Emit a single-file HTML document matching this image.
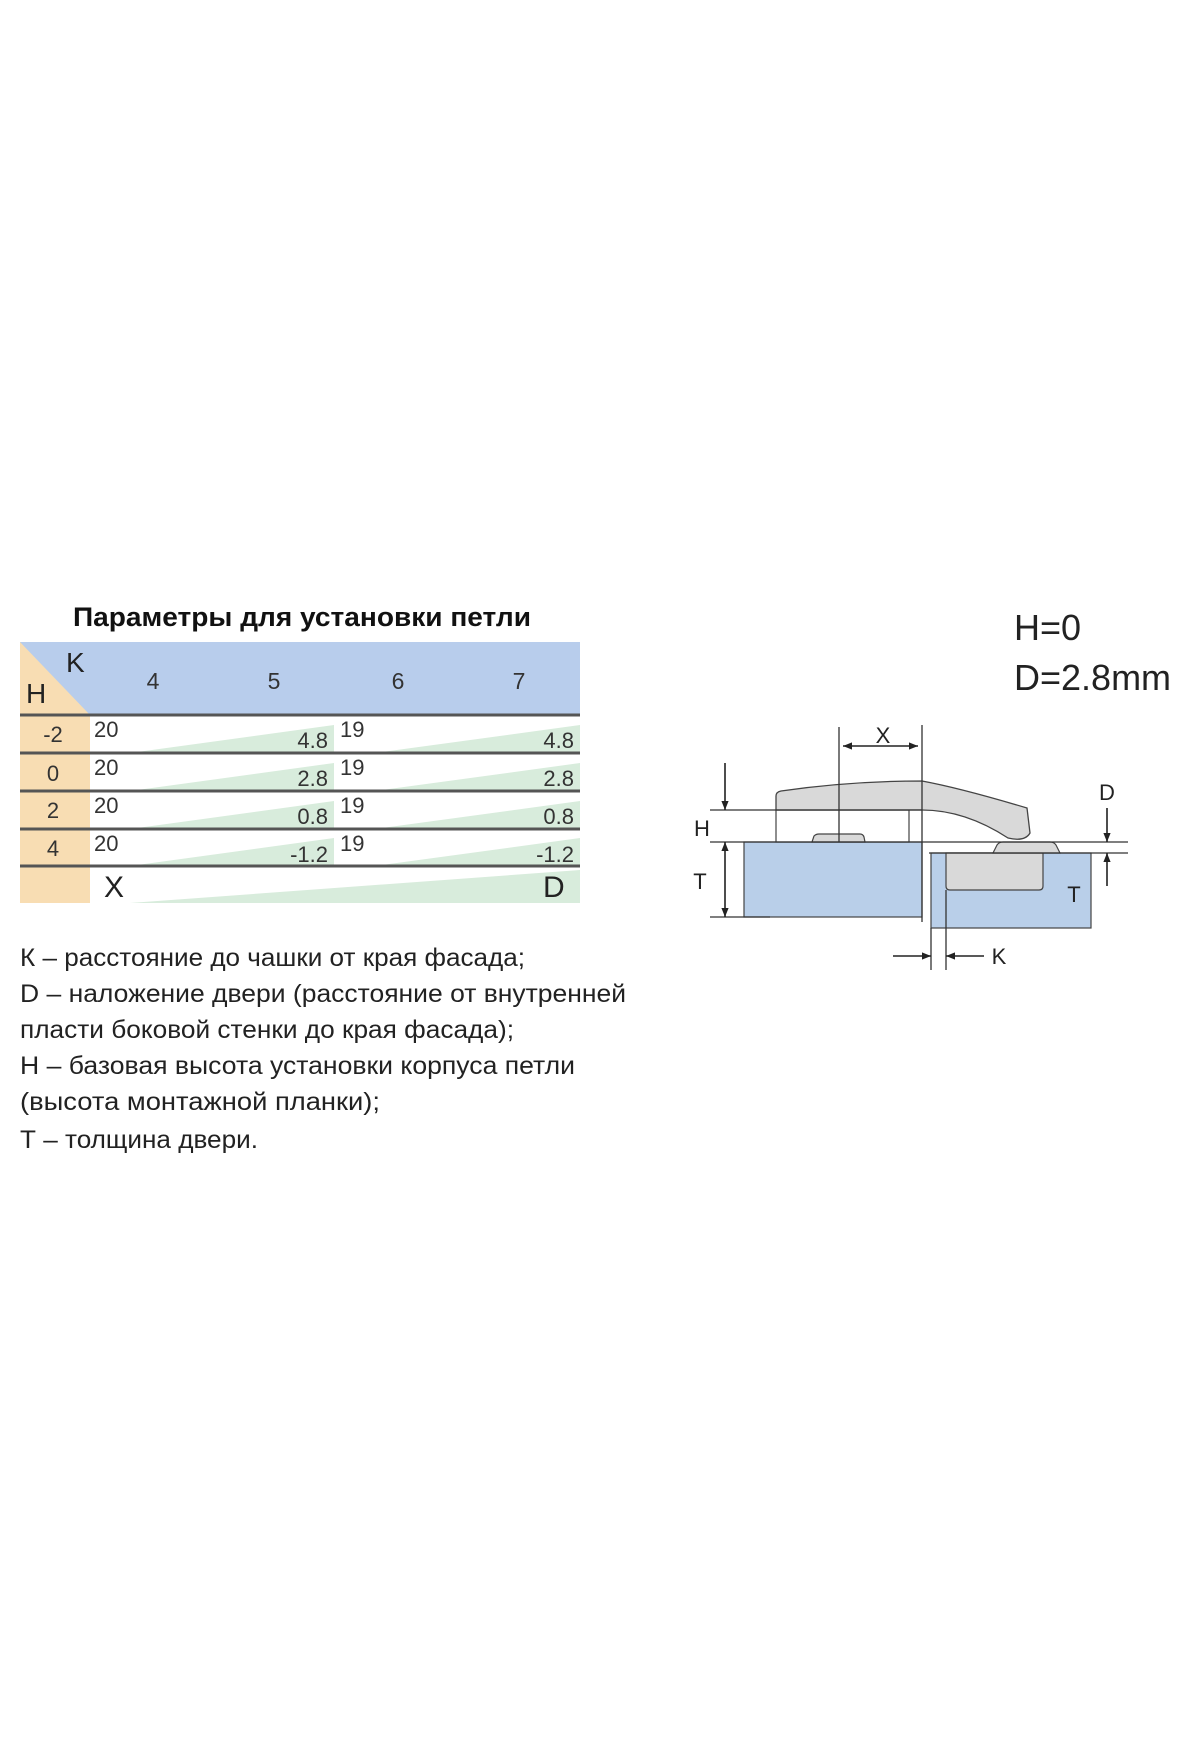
<!DOCTYPE html>
<html><head><meta charset="utf-8"><style>
html,body{margin:0;padding:0;background:#fff;width:1200px;height:1760px;overflow:hidden}
svg{display:block}
</style></head><body>
<svg width="1200" height="1760" viewBox="0 0 1200 1760" xmlns="http://www.w3.org/2000/svg" font-family="Liberation Sans, sans-serif">
<defs>
<marker id="ah" viewBox="0 0 10 10" refX="10" refY="5" markerWidth="9" markerHeight="9" orient="auto-start-reverse" markerUnits="userSpaceOnUse"><path d="M0,1 L10,5 L0,9 z" fill="#222"/></marker>
</defs>
<text x="302" y="626" font-size="27" font-weight="bold" text-anchor="middle" fill="#111" textLength="458" lengthAdjust="spacingAndGlyphs">Параметры для установки петли</text>
<!-- Table -->
<rect x="20" y="642" width="560" height="73" fill="#b8cdec"/>
<rect x="20" y="715" width="70" height="188" fill="#f8ddb3"/>
<polygon points="20,642 90,642 90,715" fill="#b8cdec"/>
<polygon points="20,642 90,715 20,715" fill="#f8ddb3"/>
<text x="66" y="672" font-size="28" fill="#222">K</text>
<text x="26" y="703" font-size="28" fill="#222">H</text>
<g font-size="23" fill="#333" text-anchor="middle">
<text x="153" y="689">4</text><text x="274" y="689">5</text><text x="398" y="689">6</text><text x="519" y="689">7</text>
</g>
<g fill="#d8ecdc">
<polygon points="130,753 334,725 334,753"/><polygon points="375,753 580,725 580,753"/>
<polygon points="130,791 334,763 334,791"/><polygon points="375,791 580,763 580,791"/>
<polygon points="130,829 334,801 334,829"/><polygon points="375,829 580,801 580,829"/>
<polygon points="130,866 334,838 334,866"/><polygon points="375,866 580,838 580,866"/>
<polygon points="130,903 580,870 580,903"/>
</g>
<g stroke="#555" stroke-width="3">
<line x1="20" y1="715" x2="580" y2="715"/>
<line x1="20" y1="753" x2="580" y2="753"/>
<line x1="20" y1="791" x2="580" y2="791"/>
<line x1="20" y1="829" x2="580" y2="829"/>
<line x1="20" y1="866" x2="580" y2="866"/>
</g>
<g font-size="22" fill="#333">
<text x="53" y="742" text-anchor="middle">-2</text>
<text x="53" y="781" text-anchor="middle">0</text>
<text x="53" y="818" text-anchor="middle">2</text>
<text x="53" y="856" text-anchor="middle">4</text>
<text x="94" y="737">20</text><text x="340" y="737">19</text>
<text x="328" y="748" text-anchor="end">4.8</text><text x="574" y="748" text-anchor="end">4.8</text>
<text x="94" y="775">20</text><text x="340" y="775">19</text>
<text x="328" y="786" text-anchor="end">2.8</text><text x="574" y="786" text-anchor="end">2.8</text>
<text x="94" y="813">20</text><text x="340" y="813">19</text>
<text x="328" y="824" text-anchor="end">0.8</text><text x="574" y="824" text-anchor="end">0.8</text>
<text x="94" y="851">20</text><text x="340" y="851">19</text>
<text x="328" y="862" text-anchor="end">-1.2</text><text x="574" y="862" text-anchor="end">-1.2</text>
</g>
<text x="104" y="897" font-size="30" fill="#222">X</text>
<text x="543" y="897" font-size="30" fill="#222">D</text>
<!-- Text block -->
<g font-size="25" fill="#222">
<text x="20" y="966" textLength="505" lengthAdjust="spacingAndGlyphs">К – расстояние до чашки от края фасада;</text>
<text x="20" y="1002" textLength="606" lengthAdjust="spacingAndGlyphs">D – наложение двери (расстояние от внутренней</text>
<text x="20" y="1038" textLength="494" lengthAdjust="spacingAndGlyphs">пласти боковой стенки до края фасада);</text>
<text x="20" y="1074" textLength="555" lengthAdjust="spacingAndGlyphs">Н – базовая высота установки корпуса петли</text>
<text x="20" y="1110" textLength="360" lengthAdjust="spacingAndGlyphs">(высота монтажной планки);</text>
<text x="20" y="1148" textLength="238" lengthAdjust="spacingAndGlyphs">Т – толщина двери.</text>
</g>
<!-- Diagram -->
<text x="1014" y="640" font-size="36" fill="#222">H=0</text>
<text x="1014" y="690" font-size="36" fill="#222">D=2.8mm</text>
<rect x="744" y="842" width="178" height="75" fill="#b9cfe9" stroke="#444" stroke-width="1.2"/>
<rect x="931" y="853" width="160" height="75" fill="#b9cfe9" stroke="#444" stroke-width="1.2"/>
<path d="M946,853 L1043,853 L1043,886 Q1043,890 1039,890 L950,890 Q946,890 946,886 Z" fill="#d9d9d9" stroke="#444" stroke-width="1.2"/>
<path d="M993,853 L997,845 Q999,842 1003,842 L1050,842 Q1054,842 1056,845 L1060,853 Z" fill="#d9d9d9" stroke="#444" stroke-width="1.2"/>
<rect x="776" y="810" width="133" height="32" fill="#fff" stroke="#444" stroke-width="1.2"/>
<path d="M812,842 L814,836 Q816,834 819,834 L860,834 Q863,834 864,837 L865,842 Z" fill="#d9d9d9" stroke="#444" stroke-width="1.2"/>
<path d="M776,810 L776,796 Q776,792 781,791 Q850,781 922,781 Q960,788 1027,808 L1030,833 Q1025,842 1008,838 Q965,810 922,810 Z" fill="#d9d9d9" stroke="#444" stroke-width="1.3"/>
<g stroke="#333" stroke-width="1.3" fill="none">
<line x1="710" y1="842" x2="1128" y2="842"/>
<line x1="929" y1="853" x2="1128" y2="853"/>
<line x1="710" y1="810" x2="922" y2="810"/>
<line x1="710" y1="917" x2="770" y2="917"/>
<line x1="839" y1="727" x2="839" y2="842"/>
<line x1="922" y1="725" x2="922" y2="922"/>
<line x1="931" y1="928" x2="931" y2="970"/>
<line x1="946" y1="890" x2="946" y2="970"/>
</g>
<g stroke="#222" stroke-width="1.6" fill="none">
<line x1="843" y1="746" x2="918" y2="746" marker-start="url(#ah)" marker-end="url(#ah)"/>
<line x1="725" y1="763" x2="725" y2="810" marker-end="url(#ah)"/>
<line x1="725" y1="842" x2="725" y2="917" marker-start="url(#ah)" marker-end="url(#ah)"/>
<line x1="1107" y1="808" x2="1107" y2="842" marker-end="url(#ah)"/>
<line x1="1107" y1="886" x2="1107" y2="853" marker-end="url(#ah)"/>
<line x1="893" y1="956" x2="931" y2="956" marker-end="url(#ah)"/>
<line x1="984" y1="956" x2="946" y2="956" marker-end="url(#ah)"/>
</g>
<g font-size="22" fill="#222" text-anchor="middle">
<text x="883" y="743">X</text>
<text x="702" y="836">H</text>
<text x="700" y="889">T</text>
<text x="1107" y="800">D</text>
<text x="1074" y="902">T</text>
<text x="999" y="964">K</text>
</g>
</svg>
</body></html>
